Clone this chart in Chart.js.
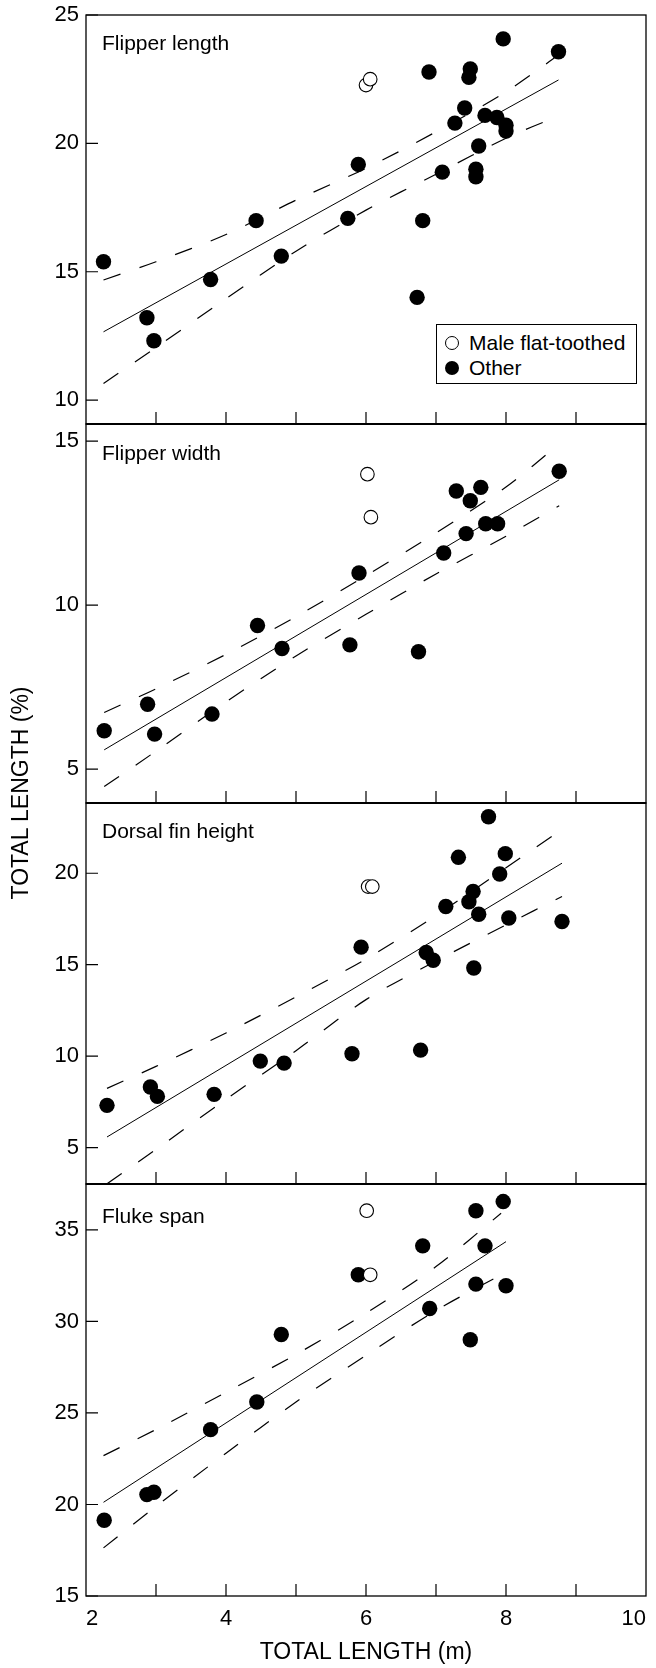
<!DOCTYPE html>
<html>
<head>
<meta charset="utf-8">
<script src="https://cdn.jsdelivr.net/npm/chart.js@4.4.0/dist/chart.umd.min.js"></script>
<style>
html, body { margin: 0; padding: 0; background: #fff; overflow: hidden; }
#page { position: relative; width: 656px; height: 1668px; font-family: "Liberation Sans", Arial, sans-serif; color: #000; }
.pane { position: absolute; left: 0; width: 656px; }
.lbl { position: absolute; left: 102px; font-size: 21px; line-height: 24px; white-space: nowrap; }
#legend { position: absolute; left: 436px; top: 324px; width: 201px; height: 60px; box-sizing: border-box; border: 1.5px solid #000; background: #fff; }
#legend .row { position: absolute; left: 32px; font-size: 21px; line-height: 24px; white-space: nowrap; }
#legend .dot { position: absolute; left: 8px; width: 14px; height: 14px; box-sizing: border-box; border-radius: 50%; }
#ytitle { position: absolute; left: -110px; top: 778px; width: 260px; height: 30px; line-height: 30px; text-align: center; font-size: 23px; white-space: nowrap; transform: rotate(-90deg); }
</style>
</head>
<body>
<div id="page">
  <div class="pane" style="top:-10px;height:459px"><canvas id="c1"></canvas></div>
  <div class="pane" style="top:399px;height:429px"><canvas id="c2"></canvas></div>
  <div class="pane" style="top:778px;height:431px"><canvas id="c3"></canvas></div>
  <div class="pane" style="top:1159px;height:509px"><canvas id="c4"></canvas></div>

  <div class="lbl" style="top:31px">Flipper length</div>
  <div class="lbl" style="top:441px">Flipper width</div>
  <div class="lbl" style="top:819px">Dorsal fin height</div>
  <div class="lbl" style="top:1204px">Fluke span</div>

  <div id="legend">
    <span class="dot" style="top:11px;border:1.2px solid #000;background:#fff"></span>
    <div class="row" style="top:6px">Male flat-toothed</div>
    <span class="dot" style="top:36px;background:#000"></span>
    <div class="row" style="top:31px">Other</div>
  </div>

  <div id="ytitle">TOTAL LENGTH (%)</div>
</div>

<script>
// shared x axis
const xTickMarks = [3, 4, 5, 6, 7, 8, 9];
const xTickLabels = [2, 4, 6, 8, 10];

// Flipper length
const lenTicks = [10, 15, 20, 25];
const lenMale = [[6.0, 22.27], [6.06, 22.5]];
const lenOther = [[2.25, 15.39], [2.87, 13.21], [2.97, 12.31], [3.78, 14.7], [4.43, 16.99], [4.79, 15.61],
  [5.74, 17.08], [5.89, 19.18], [6.73, 14.0], [6.81, 16.99], [6.9, 22.78], [7.09, 18.88], [7.27, 20.79],
  [7.41, 21.38], [7.47, 22.57], [7.49, 22.9], [7.57, 18.99], [7.57, 18.7], [7.61, 19.9], [7.7, 21.09],
  [7.87, 21.01], [8.0, 20.71], [8.0, 20.48], [7.96, 24.07], [8.75, 23.57]];
const lenFit = [[2.25, 12.66], [8.75, 22.47]];
const lenUpper = [[2.25, 14.68], [3, 15.39], [4, 16.45], [5, 17.79], [6, 19.03], [7, 20.45], [8, 22.01], [8.75, 23.44]];
const lenLower = [[2.25, 10.65], [3, 12.05], [4, 13.95], [5, 15.8], [6, 17.4], [7, 18.8], [8, 20.2], [8.75, 21.07]];

// Flipper width
const widTicks = [5, 10, 15];
const widMale = [[6.02, 13.99], [6.07, 12.68]];
const widOther = [[2.26, 6.17], [2.88, 6.98], [2.98, 6.07], [3.8, 6.68], [4.45, 9.38], [4.8, 8.68],
  [5.77, 8.79], [5.9, 10.98], [6.75, 8.58], [7.11, 11.59], [7.29, 13.48], [7.43, 12.18], [7.49, 13.18],
  [7.64, 13.59], [7.71, 12.48], [7.88, 12.48], [8.76, 14.08]];
const widFit = [[2.26, 5.59], [8.76, 13.82]];
const widUpper = [[2.26, 6.73], [3, 7.45], [4, 8.5], [5, 9.65], [6, 10.9], [7, 12.2], [8, 13.6], [8.76, 14.91]];
const widLower = [[2.26, 4.47], [3, 5.55], [4, 7.05], [5, 8.45], [6, 9.72], [7, 10.95], [8, 12.1], [8.76, 13.03]];

// Dorsal fin height
const dorTicks = [5, 10, 15, 20];
const dorMale = [[6.03, 19.27], [6.09, 19.27]];
const dorOther = [[2.3, 7.31], [2.92, 8.31], [3.02, 7.8], [3.83, 7.91], [4.49, 9.73], [4.83, 9.62],
  [5.8, 10.13], [5.93, 15.96], [6.78, 10.33], [6.86, 15.67], [6.96, 15.24], [7.14, 18.18], [7.32, 20.87],
  [7.47, 18.44], [7.53, 19.0], [7.54, 14.82], [7.61, 17.76], [7.75, 23.09], [7.91, 19.96], [7.99, 21.07],
  [8.04, 17.55], [8.8, 17.36]];
const dorFit = [[2.3, 5.58], [8.8, 20.55]];
const dorUpper = [[2.3, 8.24], [3, 9.44], [4, 11.27], [5, 13.24], [6, 15.31], [7, 17.69], [8, 20.3], [8.8, 22.4]];
const dorLower = [[2.3, 3.02], [3, 4.9], [4, 7.64], [5, 10.3], [6, 13.09], [7, 15.2], [8, 17.18], [8.8, 18.73]];

// Fluke span
const fluTicks = [15, 20, 25, 30, 35];
const fluMale = [[6.01, 36.05], [6.06, 32.55]];
const fluOther = [[2.26, 19.14], [2.87, 20.54], [2.97, 20.67], [3.78, 24.09], [4.44, 25.6], [4.79, 29.29],
  [5.89, 32.55], [6.81, 34.13], [6.91, 30.71], [7.49, 29.0], [7.57, 36.05], [7.57, 32.04], [7.7, 34.13],
  [7.96, 36.55], [8.0, 31.95]];
const fluFit = [[2.25, 20.12], [8.0, 34.36]];
const fluUpper = [[2.25, 22.67], [3, 24.1], [4, 26.13], [5, 28.2], [6, 30.45], [7, 33.0], [7.93, 35.91]];
const fluLower = [[2.25, 17.63], [3, 19.9], [4, 22.8], [5, 25.6], [6, 28.15], [7, 30.6], [7.93, 32.55]];

const panels = [
  { id: 'c1', male: lenMale, other: lenOther, fit: lenFit, upper: lenUpper, lower: lenLower, ticks: lenTicks, min: 9.07, max: 25 },
  { id: 'c2', male: widMale, other: widOther, fit: widFit, upper: widUpper, lower: widLower, ticks: widTicks, min: 3.97, max: 15.52 },
  { id: 'c3', male: dorMale, other: dorOther, fit: dorFit, upper: dorUpper, lower: dorLower, ticks: dorTicks, min: 3.01, max: 23.84 },
  { id: 'c4', male: fluMale, other: fluOther, fit: fluFit, upper: fluUpper, lower: fluLower, ticks: fluTicks, min: 15, max: 37.51 }
];

Chart.defaults.font.family = '"Liberation Sans", Arial, sans-serif';
Chart.defaults.color = '#000';

// box round the plot plus short inward tick marks
const frame = {
  id: 'frame',
  afterDraw(chart, args, opts) {
    const { ctx, chartArea: a } = chart;
    const x = chart.scales.x, y = chart.scales.y;
    ctx.save();
    ctx.strokeStyle = '#000';
    ctx.lineWidth = 1.3;
    ctx.strokeRect(a.left, a.top, a.right - a.left, a.bottom - a.top);
    if (opts.thickTop) {
      ctx.lineWidth = 2.2;
      ctx.beginPath();
      ctx.moveTo(a.left, a.top);
      ctx.lineTo(a.right, a.top);
      ctx.stroke();
    }
    ctx.lineWidth = 1.2;
    ctx.beginPath();
    xTickMarks.forEach(v => {
      const px = x.getPixelForValue(v);
      ctx.moveTo(px, a.bottom);
      ctx.lineTo(px, a.bottom - 12);
    });
    opts.ticks.forEach(v => {
      const py = y.getPixelForValue(v);
      ctx.moveTo(a.left, py);
      ctx.lineTo(a.left + 12, py);
    });
    ctx.stroke();
    ctx.restore();
  }
};

const pts = arr => arr.map(([x, y]) => ({ x, y }));

panels.forEach((p, i) => {
  const last = i === panels.length - 1;
  const band = data => ({
    type: 'line', data: pts(data), borderColor: '#000', borderWidth: 1.2,
    borderDash: [18, 20], pointRadius: 0, tension: 0.3, fill: false
  });
  new Chart(document.getElementById(p.id), {
    type: 'scatter',
    data: {
      datasets: [
        { label: 'Male flat-toothed', data: pts(p.male), pointRadius: 6.8,
          pointBackgroundColor: '#fff', pointBorderColor: '#000', pointBorderWidth: 1.1 },
        { label: 'Other', data: pts(p.other), pointRadius: 7.7,
          pointBackgroundColor: '#000', pointBorderColor: '#000', pointBorderWidth: 0 },
        { type: 'line', data: pts(p.fit), borderColor: '#000', borderWidth: 1, pointRadius: 0, fill: false },
        band(p.upper),
        band(p.lower)
      ]
    },
    options: {
      responsive: true,
      maintainAspectRatio: false,
      animation: false,
      layout: { padding: { top: 25, bottom: last ? 0 : 25, left: 0, right: 10 } },
      plugins: {
        legend: { display: false },
        tooltip: { enabled: false },
        frame: { ticks: p.ticks, thickTop: i > 0 }
      },
      scales: {
        x: {
          type: 'linear', min: 2, max: 10, display: last,
          afterBuildTicks: s => { s.ticks = xTickLabels.map(v => ({ value: v })); },
          afterFit: s => { if (last) s.height = 72; },
          grid: { display: false, drawTicks: false },
          border: { display: false },
          ticks: { font: { size: 22 }, color: '#000', padding: 10, align: 'inner', maxRotation: 0, autoSkip: false },
          title: { display: true, text: 'TOTAL LENGTH (m)', font: { size: 23 }, color: '#000', padding: { top: 0, bottom: 2 } }
        },
        y: {
          type: 'linear', min: p.min, max: p.max,
          afterBuildTicks: s => { s.ticks = p.ticks.map(v => ({ value: v })); },
          afterFit: s => { s.width = 86; },
          grid: { display: false, drawTicks: false },
          border: { display: false },
          ticks: { font: { size: 22 }, color: '#000', padding: 7 }
        }
      }
    },
    plugins: [frame]
  });
});
</script>
</body>
</html>
